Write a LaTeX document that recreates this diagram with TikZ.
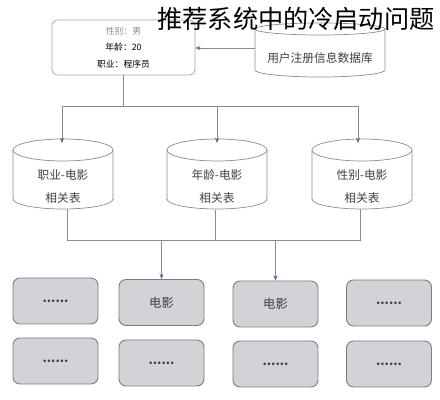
\documentclass[tikz,border=0pt]{standalone}
\usepackage{fontspec}
\usepackage{tikz}
\usetikzlibrary{arrows.meta, calc}
\newfontfamily\cjk{Noto Sans CJK SC}
\definecolor{linegray}{HTML}{8C8C90}
\definecolor{tipblue}{HTML}{4A6A9E}
\definecolor{boxfill}{HTML}{D3D3D7}
\definecolor{boxedge}{HTML}{7C7C84}

\tikzset{
  link/.style={draw=linegray, line width=0.6pt},
  flow/.style={link, -{Stealth[length=4.5pt, width=3.5pt, color=tipblue]}},
  dbline/.style={draw=linegray, line width=0.6pt, fill=white},
  profilebox/.style={draw=linegray!80, line width=0.6pt, rounded corners=5pt,
    minimum width=4.29cm, minimum height=1.65cm, align=center,
    font=\cjk\fontsize{7.5}{14}\selectfont},
  dbtext/.style={align=center, text=black!75, font=\cjk\fontsize{10}{19.5}\selectfont},
  moviebox/.style={draw=boxedge, fill=boxfill, line width=0.8pt, rounded corners=6pt,
    minimum width=2.55cm, minimum height=1.38cm, text=black!75,
    font=\cjk\fontsize{10.5}{12}\selectfont}
}

\begin{document}
\begin{tikzpicture}[x=0.03cm, y=-0.03cm]
\useasboundingbox (0,0) rectangle (440,400);

% User profile card
\node[profilebox] (profile) at (123.5,47.5)
  {\textcolor{black!45}{性别：男}\\年龄：20\\职业：程序员};

% Registration database
\filldraw[dbline] (255,29) -- (255,70) arc[start angle=180, end angle=0, x radius=65, y radius=7] -- (385,29);
\draw[dbline] (320,29) ellipse [x radius=65, y radius=6];
\node[dbtext, font=\cjk\fontsize{10}{12}\selectfont] (userdb) at (320,58) {用户注册信息数据库};
\coordinate (userdb west) at (255,48);
\draw[flow] (userdb west) -- (profile.east |- userdb west);

% Attribute-movie tables
\foreach \cx/\nm/\txt in {63/occ/职业, 217/age/年龄, 362/sex/性别} {
  \filldraw[dbline] (\cx-50,150) -- (\cx-50,199)
    arc[start angle=180, end angle=0, x radius=50, y radius=10] -- (\cx+50,150);
  \draw[dbline] (\cx,150) ellipse [x radius=50, y radius=11];
  \node[dbtext] (\nm) at (\cx,186.5) {\txt-电影\\相关表};
}

% Profile to tables
\coordinate (upper bus) at (profile.south |- 0,106);
\draw[link] (profile.south) -- (upper bus);
\draw[link] (62,106) -- (358,106);
\draw[flow] (62,106) -- (62,143);
\draw[flow] (217,106) -- (217,143);
\draw[flow] (358,106) -- (358,143);

% Tables to movies
\draw[link] (67,209) -- (67,240) -- (360,240) -- (360,209);
\draw[link] (215,210) -- (215,240);

% Movie boxes
\node[moviebox] (m1) at (55.5,301) {\textbf{......}};
\node[moviebox] (m2) at (161.5,302.5) {电影};
\node[moviebox] (m3) at (275.5,304) {电影};
\node[moviebox] (m4) at (389,303) {\textbf{......}};
\node[moviebox] (m5) at (55.5,361) {\textbf{......}};
\node[moviebox] (m6) at (161.5,363) {\textbf{......}};
\node[moviebox] (m7) at (275.5,364) {\textbf{......}};
\node[moviebox] (m8) at (389,364) {\textbf{......}};

\draw[flow] (m2.north |- 0,240) -- (m2.north);
\draw[flow] (m3.north |- 0,240) -- (m3.north);

% Title
\node[font=\cjk\fontsize{21.5}{24}\selectfont, inner sep=0pt] (title) at (296,19) {推荐系统中的冷启动问题};

\end{tikzpicture}
\end{document}
